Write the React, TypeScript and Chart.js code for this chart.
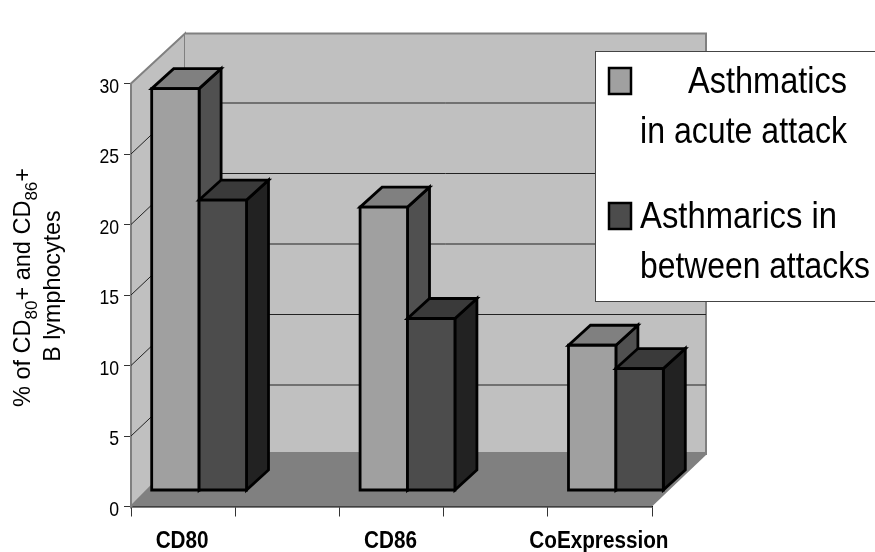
import React, { useEffect, useRef } from "react";
import { Chart, registerables } from "chart.js";

Chart.register(...registerables);

const categories = ["CD80", "", "CD86", "", "CoExpression"];
const acuteAttack = [28.5, null, 20.1, null, 10.3];
const betweenAttacks = [20.6, null, 12.2, null, 8.65];
const yTicks = [0, 5, 10, 15, 20, 25, 30];
const legendLabels = [
  ["Asthmatics", "in acute attack"],
  ["Asthmarics in", "between attacks"],
];

// Placement of each key line: [x, baseline, fitted width]
const legendLayout = [
  { swatchY: 67, lines: [[688, 93, 159], [640, 143, 207]] },
  { swatchY: 202, lines: [[640, 228, 197], [640, 278, 230]] },
];

const SANS = '"Liberation Sans", Arial, sans-serif';
const BAR_LINE = 2.8;

// Oblique projection used for the walls and the bars.
const WALL_DX = 54;
const WALL_DY = 50;
const GRID_DY = 51;
const FLOOR_BACK_Y = 452;
const FLOOR_CORNER_Y = 455;
const BAR_SHIFT_X = 16;
const BAR_SHIFT_Y = 16;
const BAR_DEPTH_X = 22;
const BAR_DEPTH_Y = 20;

function poly(ctx: CanvasRenderingContext2D, pts: number[][], fill?: string, stroke?: string, lw = 1) {
  ctx.beginPath();
  pts.forEach(([x, y], i) => (i ? ctx.lineTo(x, y) : ctx.moveTo(x, y)));
  ctx.closePath();
  if (fill) {
    ctx.fillStyle = fill;
    ctx.fill();
  }
  if (stroke) {
    ctx.strokeStyle = stroke;
    ctx.lineWidth = lw;
    ctx.lineJoin = "miter";
    ctx.stroke();
  }
}

// Horizontally condensed text; the installed sans has no narrow cut.
function condensed(ctx: CanvasRenderingContext2D, text: string, x: number, y: number, sx: number, align: CanvasTextAlign) {
  ctx.save();
  ctx.translate(x, y);
  ctx.scale(sx, 1);
  ctx.textAlign = align;
  ctx.textBaseline = "alphabetic";
  ctx.fillText(text, 0, 0);
  ctx.restore();
}

const wallsPlugin = {
  id: "walls",
  beforeDatasetsDraw(chart: any) {
    const { ctx, chartArea: a, scales } = chart;
    const y = scales.y;
    const L = a.left, R = a.right, T = a.top, B = a.bottom;
    const BL = L + WALL_DX, BR = R + WALL_DX, BT = T - WALL_DY;
    ctx.save();
    poly(ctx, [[L, T], [BL, BT], [BL, FLOOR_BACK_Y], [L, B]], "#c0c0c0", "#808080", 2);
    poly(ctx, [[BL, BT], [BR, BT], [BR, FLOOR_BACK_Y], [BL, FLOOR_BACK_Y]], "#c0c0c0");
    ctx.strokeStyle = "#808080";
    ctx.lineWidth = 2;
    ctx.beginPath();
    ctx.moveTo(BL, BT);
    ctx.lineTo(BR, BT);
    ctx.lineTo(BR, FLOOR_CORNER_Y);
    ctx.stroke();
    poly(ctx, [[L, B], [BL, FLOOR_BACK_Y], [BR, FLOOR_BACK_Y], [BR, FLOOR_CORNER_Y], [R, B]], "#808080");
    // grid lines run across the left wall and along the back wall
    ctx.strokeStyle = "#222";
    ctx.lineWidth = 1;
    yTicks.slice(1, -1).forEach((v) => {
      const py = y.getPixelForValue(v);
      ctx.beginPath();
      ctx.moveTo(L, py);
      ctx.lineTo(BL, py - GRID_DY);
      ctx.lineTo(BR, py - GRID_DY);
      ctx.stroke();
    });
    ctx.restore();
    // the flat bars are replaced by their prism version below
    [0, 1].forEach((di) => {
      chart.getDatasetMeta(di).data.forEach((el: any, i: number) => {
        const ds = chart.data.datasets[di];
        if (ds.data[i] == null) return;
        const { x, y: top, base, width } = el.getProps(["x", "y", "base", "width"], true);
        const x0 = x - width / 2 + BAR_SHIFT_X;
        const x1 = x + width / 2 + BAR_SHIFT_X;
        const y0 = top - BAR_SHIFT_Y;
        const y1 = base - BAR_SHIFT_Y;
        poly(ctx, [[x1, y0], [x1 + BAR_DEPTH_X, y0 - BAR_DEPTH_Y], [x1 + BAR_DEPTH_X, y1 - BAR_DEPTH_Y], [x1, y1]], ds.sideColor, "#000", BAR_LINE);
        poly(ctx, [[x0, y0], [x0 + BAR_DEPTH_X, y0 - BAR_DEPTH_Y], [x1 + BAR_DEPTH_X, y0 - BAR_DEPTH_Y], [x1, y0]], ds.topColor, "#000", BAR_LINE);
        poly(ctx, [[x0, y0], [x1, y0], [x1, y1], [x0, y1]], ds.backgroundColor, "#000", BAR_LINE);
      });
    });
    return false;
  },
};

function drawRuns(ctx: CanvasRenderingContext2D, runs: { t: string; sub?: boolean }[], cx: number, cy: number, size: number, sx: number) {
  ctx.save();
  ctx.translate(cx, cy);
  ctx.rotate(-Math.PI / 2);
  ctx.scale(sx, 1);
  const fontOf = (r: any) => `${r.sub ? size * 0.72 : size}px ${SANS}`;
  let total = 0;
  runs.forEach((r) => {
    ctx.font = fontOf(r);
    total += ctx.measureText(r.t).width;
  });
  let x = -total / 2;
  ctx.textAlign = "left";
  ctx.textBaseline = "alphabetic";
  ctx.fillStyle = "#000";
  runs.forEach((r) => {
    ctx.font = fontOf(r);
    ctx.fillText(r.t, x, r.sub ? size * 0.3 : 0);
    x += ctx.measureText(r.t).width;
  });
  ctx.restore();
}

const annotationPlugin = {
  id: "annotation",
  afterDraw(chart: any) {
    const { ctx, scales } = chart;
    ctx.save();
    ctx.fillStyle = "#000";

    // tick labels
    ctx.font = `21px ${SANS}`;
    scales.y.ticks.forEach((t: any, i: number) => {
      condensed(ctx, String(t.value), 119, scales.y.getPixelForTick(i) + 9, 0.84, "right");
    });
    ctx.font = `bold 23px ${SANS}`;
    scales.x.ticks.forEach((_: any, i: number) => {
      const label = String(scales.x.getLabelForValue(i));
      if (label) condensed(ctx, label, scales.x.getPixelForTick(i) - 1, 548, 0.9, "center");
    });

    // axis title with subscripted marker names
    drawRuns(ctx, [{ t: "% of CD" }, { t: "80", sub: true }, { t: "+ and CD" }, { t: "86", sub: true }, { t: "+" }], 30, 287.5, 24, 0.98);
    drawRuns(ctx, [{ t: "B lymphocytes" }], 60, 286, 24, 0.97);

    // key box, running off the right edge of the page
    ctx.fillStyle = "#fff";
    ctx.fillRect(595, 51, 285, 250.5);
    ctx.strokeStyle = "#444";
    ctx.lineWidth = 1;
    ctx.strokeRect(595.5, 51.5, 290, 250);
    ctx.textAlign = "left";
    ctx.textBaseline = "alphabetic";
    ctx.font = `37px ${SANS}`;
    legendLayout.forEach((entry, i) => {
      const ds = chart.data.datasets[i];
      ctx.fillStyle = ds.backgroundColor;
      ctx.strokeStyle = "#000";
      ctx.lineWidth = 2.5;
      ctx.fillRect(609, entry.swatchY + 1, 22, 26);
      ctx.strokeRect(609, entry.swatchY + 1, 22, 26);
      ctx.fillStyle = "#000";
      entry.lines.forEach(([x, y, w], j) => ctx.fillText(legendLabels[i][j], x, y, w));
    });
    ctx.restore();
  },
};

export default function App() {
  const ref = useRef<HTMLCanvasElement>(null);
  useEffect(() => {
    const chart = new Chart(ref.current as HTMLCanvasElement, {
      type: "bar",
      data: {
        labels: categories,
        datasets: [
          { label: "Asthmatics in acute attack", data: acuteAttack, backgroundColor: "#a0a0a0", topColor: "#808080", sideColor: "#505050", borderWidth: 0 } as any,
          { label: "Asthmarics in between attacks", data: betweenAttacks, backgroundColor: "#4c4c4c", topColor: "#3a3a3a", sideColor: "#222222", borderWidth: 0 } as any,
        ],
      },
      options: {
        responsive: false,
        animation: false,
        layout: { padding: { left: 0, top: 83.5, right: 223, bottom: 0 } },
        datasets: { bar: { categoryPercentage: 0.91, barPercentage: 1 } },
        plugins: {
          legend: { display: false },
          tooltip: { enabled: false },
          title: { display: false },
        },
        scales: {
          x: {
            afterFit: (s: any) => { s.height = 45.5; },
            grid: { display: true, offset: true, drawOnChartArea: false, tickLength: 10, tickColor: "#333", tickWidth: 1 },
            border: { color: "#000", width: 1.5 },
            ticks: { display: false, autoSkip: false, maxRotation: 0 },
          },
          y: {
            min: 0,
            max: 30,
            afterFit: (s: any) => { s.width = 131; },
            afterBuildTicks: (s: any) => { s.ticks = yTicks.map((value) => ({ value })); },
            grid: { display: true, drawOnChartArea: false, tickLength: 7, tickColor: "#333", tickWidth: 1 },
            border: { color: "#808080", width: 2 },
            ticks: { display: false },
          },
        },
      },
      plugins: [wallsPlugin, annotationPlugin],
    } as any);
    return () => chart.destroy();
  }, []);
  return (
    <div style={{ position: "fixed", left: 0, top: 0, width: 875, height: 552, background: "#fff" }}>
      <canvas ref={ref} width={875} height={552} style={{ display: "block" }} />
    </div>
  );
}
